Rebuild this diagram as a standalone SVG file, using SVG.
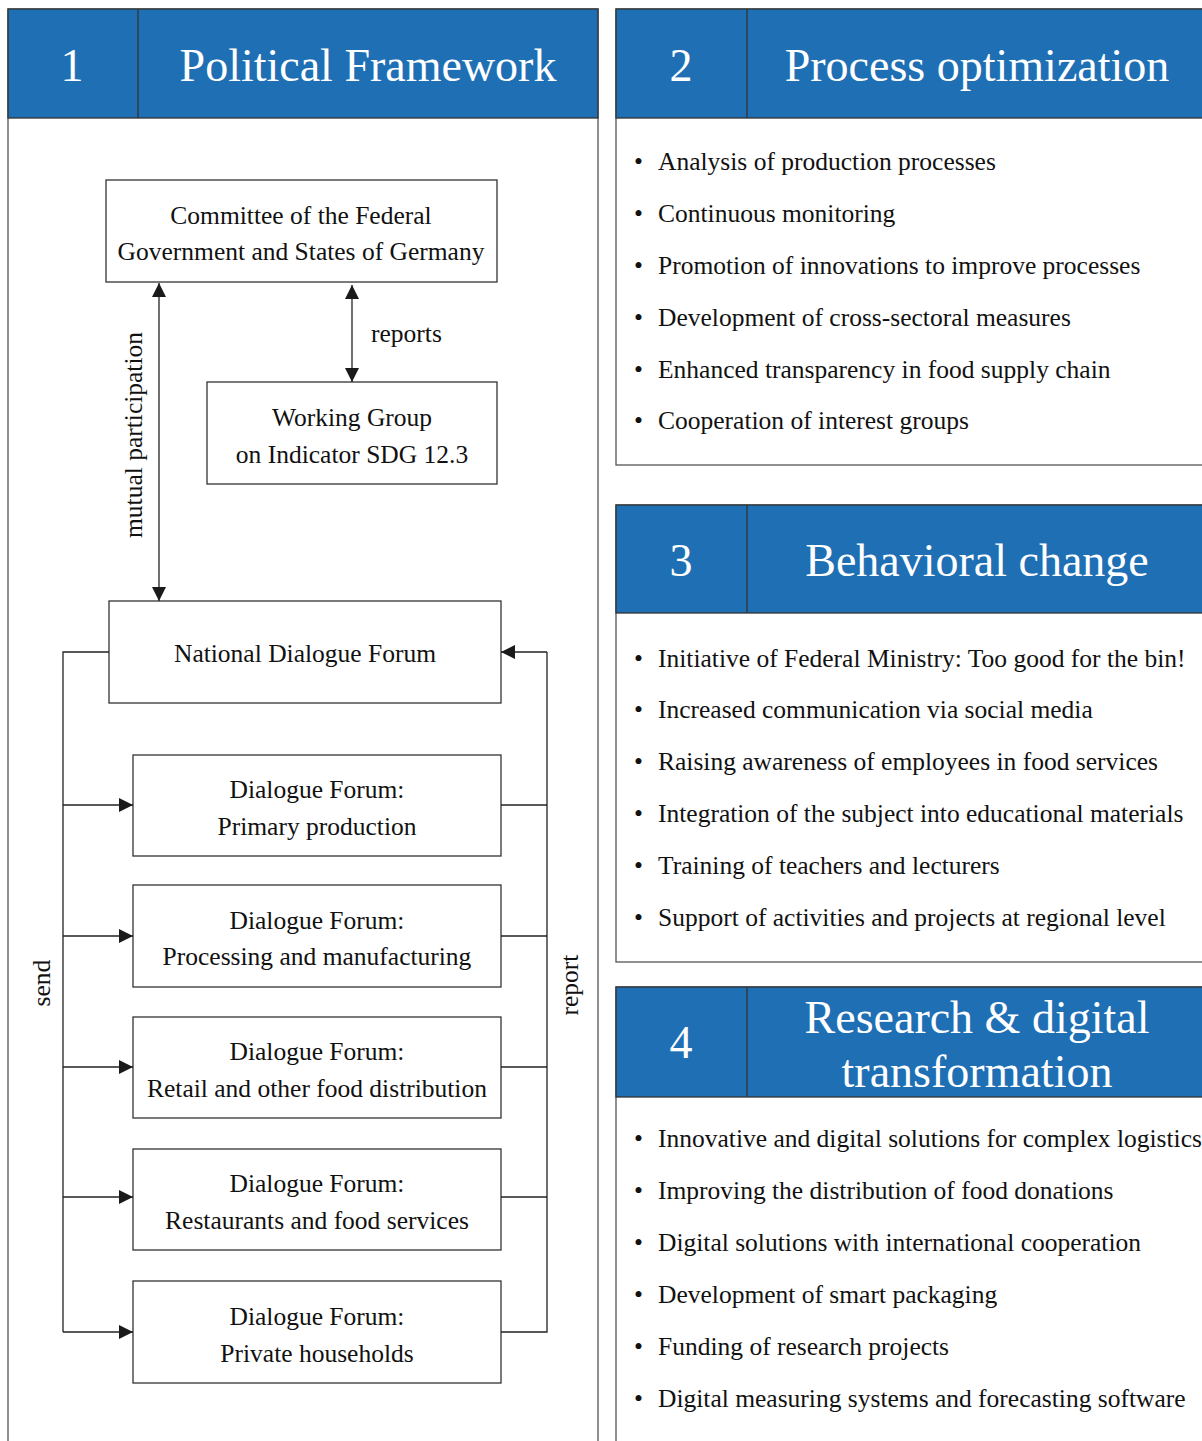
<svg xmlns="http://www.w3.org/2000/svg" width="1202" height="1441" viewBox="0 0 1202 1441">
  <style>
    .panel { fill: #ffffff; stroke: #555555; stroke-width: 1.3; }
    .head { fill: #1f6fb5; stroke: #333333; stroke-width: 1.3; }
    .htxt { font-family: "Liberation Serif", "Times New Roman", serif; font-size: 46px; fill: #ffffff; text-anchor: middle; }
    .box { fill: #ffffff; stroke: #333333; stroke-width: 1.3; }
    .btxt { font-family: "Liberation Serif", "Times New Roman", serif; font-size: 25.5px; fill: #111111; text-anchor: middle; }
    .ltxt { font-family: "Liberation Serif", "Times New Roman", serif; font-size: 25.5px; fill: #111111; }
    .item { font-family: "Liberation Serif", "Times New Roman", serif; font-size: 25.5px; fill: #111111; }
    .wire { fill: none; stroke: #222222; stroke-width: 1.3; }
  </style>
  <defs>
    <marker id="tri" viewBox="0 0 10 10" refX="10" refY="5" markerWidth="14" markerHeight="14" markerUnits="userSpaceOnUse" orient="auto-start-reverse">
      <path d="M0,0 L10,5 L0,10 Z" fill="#1a1a1a"/>
    </marker>
  </defs>
  <rect width="1202" height="1441" fill="#ffffff"/>

  <!-- Panel 1: Political Framework -->
  <g id="panel1">
    <rect class="panel" x="8" y="9" width="590" height="1440"/>
    <rect class="head" x="8" y="9" width="590" height="109"/>
    <line x1="138" y1="9" x2="138" y2="118" stroke="#333333" stroke-width="1.3"/>
    <text class="htxt" x="72" y="81">1</text>
    <text class="htxt" x="368" y="81">Political Framework</text>
  </g>

  <!-- Panel 2: Process optimization -->
  <g id="panel2">
    <rect class="panel" x="616" y="9" width="600" height="456"/>
    <rect class="head" x="616" y="9" width="600" height="109"/>
    <line x1="747" y1="9" x2="747" y2="118" stroke="#333333" stroke-width="1.3"/>
    <text class="htxt" x="681" y="81">2</text>
    <text class="htxt" x="977" y="81">Process optimization</text>
    <g class="item">
      <text x="634" y="170">•</text><text x="658" y="170">Analysis of production processes</text>
      <text x="634" y="222">•</text><text x="658" y="222">Continuous monitoring</text>
      <text x="634" y="274">•</text><text x="658" y="274">Promotion of innovations to improve processes</text>
      <text x="634" y="326">•</text><text x="658" y="326">Development of cross-sectoral measures</text>
      <text x="634" y="378">•</text><text x="658" y="378">Enhanced transparency in food supply chain</text>
      <text x="634" y="429">•</text><text x="658" y="429">Cooperation of interest groups</text>
    </g>
  </g>

  <!-- Panel 3: Behavioral change -->
  <g id="panel3">
    <rect class="panel" x="616" y="505" width="600" height="457"/>
    <rect class="head" x="616" y="505" width="600" height="108"/>
    <line x1="747" y1="505" x2="747" y2="613" stroke="#333333" stroke-width="1.3"/>
    <text class="htxt" x="681" y="576">3</text>
    <text class="htxt" x="977" y="576">Behavioral change</text>
    <g class="item">
      <text x="634" y="667">•</text><text x="658" y="667">Initiative of Federal Ministry: Too good for the bin!</text>
      <text x="634" y="718">•</text><text x="658" y="718">Increased communication via social media</text>
      <text x="634" y="770">•</text><text x="658" y="770">Raising awareness of employees in food services</text>
      <text x="634" y="822">•</text><text x="658" y="822">Integration of the subject into educational materials</text>
      <text x="634" y="874">•</text><text x="658" y="874">Training of teachers and lecturers</text>
      <text x="634" y="926">•</text><text x="658" y="926">Support of activities and projects at regional level</text>
    </g>
  </g>

  <!-- Panel 4: Research & digital transformation -->
  <g id="panel4">
    <rect class="panel" x="616" y="987" width="600" height="470"/>
    <rect class="head" x="616" y="987" width="600" height="110"/>
    <line x1="747" y1="987" x2="747" y2="1097" stroke="#333333" stroke-width="1.3"/>
    <text class="htxt" x="681" y="1058">4</text>
    <text class="htxt" x="977" y="1033">Research &amp; digital</text>
    <text class="htxt" x="977" y="1087">transformation</text>
    <g class="item">
      <text x="634" y="1147">•</text><text x="658" y="1147">Innovative and digital solutions for complex logistics</text>
      <text x="634" y="1199">•</text><text x="658" y="1199">Improving the distribution of food donations</text>
      <text x="634" y="1251">•</text><text x="658" y="1251">Digital solutions with international cooperation</text>
      <text x="634" y="1303">•</text><text x="658" y="1303">Development of smart packaging</text>
      <text x="634" y="1355">•</text><text x="658" y="1355">Funding of research projects</text>
      <text x="634" y="1407">•</text><text x="658" y="1407">Digital measuring systems and forecasting software</text>
    </g>
  </g>

  <!-- Nodes -->
  <g id="committee">
    <rect class="box" x="106" y="180" width="391" height="102"/>
    <text class="btxt" x="301" y="224">Committee of the Federal</text>
    <text class="btxt" x="301" y="260">Government and States of Germany</text>
  </g>
  <g id="working-group">
    <rect class="box" x="207" y="382" width="290" height="102"/>
    <text class="btxt" x="352" y="426">Working Group</text>
    <text class="btxt" x="352" y="463">on Indicator SDG 12.3</text>
  </g>
  <g id="national-forum">
    <rect class="box" x="109" y="601" width="392" height="102"/>
    <text class="btxt" x="305" y="662">National Dialogue Forum</text>
  </g>
  <g id="df-primary">
    <rect class="box" x="133" y="755" width="368" height="101"/>
    <text class="btxt" x="317" y="798">Dialogue Forum:</text>
    <text class="btxt" x="317" y="835">Primary production</text>
  </g>
  <g id="df-processing">
    <rect class="box" x="133" y="885" width="368" height="102"/>
    <text class="btxt" x="317" y="929">Dialogue Forum:</text>
    <text class="btxt" x="317" y="965">Processing and manufacturing</text>
  </g>
  <g id="df-retail">
    <rect class="box" x="133" y="1017" width="368" height="101"/>
    <text class="btxt" x="317" y="1060">Dialogue Forum:</text>
    <text class="btxt" x="317" y="1097">Retail and other food distribution</text>
  </g>
  <g id="df-restaurants">
    <rect class="box" x="133" y="1149" width="368" height="101"/>
    <text class="btxt" x="317" y="1192">Dialogue Forum:</text>
    <text class="btxt" x="317" y="1229">Restaurants and food services</text>
  </g>
  <g id="df-households">
    <rect class="box" x="133" y="1281" width="368" height="102"/>
    <text class="btxt" x="317" y="1325">Dialogue Forum:</text>
    <text class="btxt" x="317" y="1362">Private households</text>
  </g>

  <!-- Connectors -->
  <g id="connectors">
    <!-- mutual participation -->
    <line class="wire" x1="159" y1="283" x2="159" y2="601" marker-start="url(#tri)" marker-end="url(#tri)"/>
    <text class="ltxt" text-anchor="middle" transform="translate(142 435) rotate(-90)">mutual participation</text>
    <!-- reports -->
    <line class="wire" x1="352" y1="285" x2="352" y2="382" marker-start="url(#tri)" marker-end="url(#tri)"/>
    <text class="ltxt" x="371" y="342">reports</text>
    <!-- send: national forum to each sector forum -->
    <path class="wire" d="M109,652 H63 V1332"/>
    <line class="wire" x1="63" y1="805" x2="133" y2="805" marker-end="url(#tri)"/>
    <line class="wire" x1="63" y1="936" x2="133" y2="936" marker-end="url(#tri)"/>
    <line class="wire" x1="63" y1="1067" x2="133" y2="1067" marker-end="url(#tri)"/>
    <line class="wire" x1="63" y1="1197" x2="133" y2="1197" marker-end="url(#tri)"/>
    <line class="wire" x1="63" y1="1332" x2="133" y2="1332" marker-end="url(#tri)"/>
    <text class="ltxt" text-anchor="middle" transform="translate(50 983) rotate(-90)">send</text>
    <!-- report: sector forums back to national forum -->
    <path class="wire" d="M501,1332 H547 V652"/>
    <line class="wire" x1="501" y1="805" x2="547" y2="805"/>
    <line class="wire" x1="501" y1="936" x2="547" y2="936"/>
    <line class="wire" x1="501" y1="1067" x2="547" y2="1067"/>
    <line class="wire" x1="501" y1="1197" x2="547" y2="1197"/>
    <line class="wire" x1="547" y1="652" x2="501" y2="652" marker-end="url(#tri)"/>
    <text class="ltxt" text-anchor="middle" transform="translate(578 985) rotate(-90)">report</text>
  </g>
</svg>
